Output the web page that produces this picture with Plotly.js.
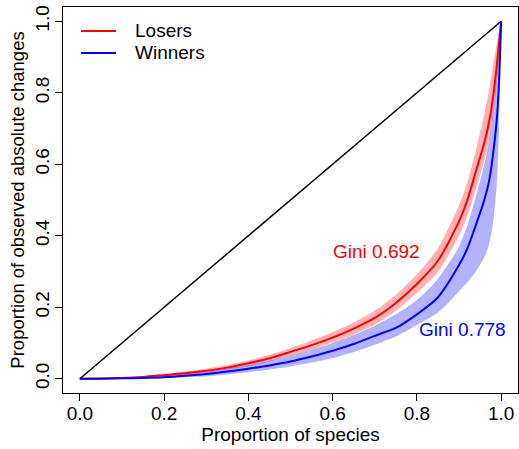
<!DOCTYPE html>
<html>
<head>
<meta charset="utf-8">
<script src="https://cdn.plot.ly/plotly-3.0.1.min.js"></script>
<style>
html,body{margin:0;padding:0;background:#fff;}
#chart{width:519px;height:449px;}
</style>
</head>
<body>
<div id="chart"></div>
<script>
// Proportion of species (x grid)
var propSpecies = [0, 0.05, 0.1, 0.15, 0.2, 0.25, 0.3, 0.35, 0.4, 0.45, 0.5, 0.55, 0.6, 0.65, 0.7, 0.75, 0.8, 0.85, 0.9, 0.92, 0.94, 0.96, 0.97, 0.98, 0.99, 0.995, 1];

// Losers Lorenz curve and band
var losersMid = [0, 0.0003, 0.002, 0.005, 0.01, 0.015, 0.022, 0.031, 0.043, 0.057, 0.075, 0.094, 0.115, 0.14, 0.17, 0.212, 0.265, 0.33, 0.44, 0.50, 0.58, 0.66, 0.71, 0.78, 0.88, 0.94, 1];
var losersHi  = [0, 0.0005, 0.003, 0.007, 0.013, 0.02, 0.028, 0.038, 0.051, 0.067, 0.086, 0.107, 0.13, 0.157, 0.19, 0.235, 0.292, 0.365, 0.485, 0.55, 0.64, 0.74, 0.80, 0.87, 0.94, 0.97, 1];
var losersLo  = [0, 0.0001, 0.001, 0.003, 0.007, 0.011, 0.017, 0.025, 0.035, 0.048, 0.064, 0.082, 0.101, 0.124, 0.151, 0.19, 0.24, 0.298, 0.40, 0.455, 0.53, 0.61, 0.66, 0.73, 0.83, 0.90, 1];

// Winners Lorenz curve and band
var winnersMid = [0, 0.0002, 0.001, 0.002, 0.004, 0.008, 0.013, 0.02, 0.028, 0.037, 0.048, 0.062, 0.078, 0.097, 0.12, 0.142, 0.18, 0.228, 0.318, 0.365, 0.43, 0.50, 0.545, 0.62, 0.73, 0.83, 1];
var winnersHi  = [0, 0.0004, 0.002, 0.004, 0.007, 0.012, 0.019, 0.028, 0.038, 0.05, 0.065, 0.082, 0.10, 0.122, 0.148, 0.18, 0.22, 0.28, 0.37, 0.43, 0.51, 0.60, 0.66, 0.74, 0.85, 0.92, 1];
var winnersLo  = [0, 0.0001, 0.0005, 0.001, 0.002, 0.004, 0.007, 0.012, 0.018, 0.026, 0.034, 0.045, 0.058, 0.075, 0.095, 0.118, 0.15, 0.185, 0.245, 0.27, 0.30, 0.34, 0.37, 0.43, 0.55, 0.70, 1];

var equalityX = [0, 1];
var equalityY = [0, 1];

var seriesNames = ["Losers", "Winners"];
var seriesColors = ["#ff0000", "#0000ff"];
var giniLabels = ["Gini 0.692", "Gini 0.778"];
var tickVals = [0, 0.2, 0.4, 0.6, 0.8, 1.0];
var tickText = ["0.0", "0.2", "0.4", "0.6", "0.8", "1.0"];

var SMOOTH = 0.7;

function band(x, lo, hi, color) {
  var bx = x.concat(x.slice().reverse());
  var by = hi.concat(lo.slice().reverse());
  return {x: bx, y: by, type: 'scatter', mode: 'lines', fill: 'toself',
          fillcolor: color, line: {width: 0, shape: 'spline', smoothing: SMOOTH},
          hoverinfo: 'skip', showlegend: false};
}

var font = "Liberation Sans, Arial, sans-serif";
var FS = 19;

var data = [
  band(propSpecies, losersLo, losersHi, 'rgba(255,0,0,0.3)'),
  band(propSpecies, winnersLo, winnersHi, 'rgba(0,0,255,0.3)'),
  {x: equalityX, y: equalityY, type: 'scatter', mode: 'lines',
   line: {color: 'black', width: 1.5}, showlegend: false},
  {x: propSpecies, y: losersMid, type: 'scatter', mode: 'lines', name: seriesNames[0],
   line: {color: seriesColors[0], width: 2, shape: 'spline', smoothing: SMOOTH}, showlegend: false},
  {x: propSpecies, y: winnersMid, type: 'scatter', mode: 'lines', name: seriesNames[1],
   line: {color: seriesColors[1], width: 2, shape: 'spline', smoothing: SMOOTH}, showlegend: false}
];

var axisCommon = {
  range: [-0.04, 1.04], tickvals: tickVals, ticktext: tickText,
  ticks: 'outside', ticklen: 7, tickwidth: 1, tickcolor: 'black',
  showline: true, mirror: true, linecolor: 'black', linewidth: 1,
  showgrid: false, zeroline: false,
  tickfont: {family: font, size: FS, color: 'black'}
};

// manual legend (paper coordinates of the plot area)
var legendRowsY = [0.938, 0.881];
var shapes = [];
var annotations = [];
for (var i = 0; i < seriesNames.length; i++) {
  shapes.push({type: 'line', xref: 'paper', yref: 'paper', x0: 0.0396, x1: 0.1165,
               y0: legendRowsY[i], y1: legendRowsY[i], line: {color: seriesColors[i], width: 2}});
  annotations.push({xref: 'paper', yref: 'paper', x: 0.1538, y: legendRowsY[i], xanchor: 'left', yanchor: 'middle',
                    text: seriesNames[i], showarrow: false, font: {family: font, size: FS, color: 'black'}});
}
annotations.push({x: 0.704, y: 0.356, xref: 'x', yref: 'y', text: giniLabels[0], showarrow: false,
                  font: {family: font, size: FS, color: seriesColors[0]}});
annotations.push({x: 0.909, y: 0.137, xref: 'x', yref: 'y', text: giniLabels[1], showarrow: false,
                  font: {family: font, size: FS, color: seriesColors[1]}});

var layout = {
  width: 519, height: 449,
  margin: {l: 63, r: 1, t: 7, b: 56},
  paper_bgcolor: 'white', plot_bgcolor: 'white',
  font: {family: font, size: FS, color: 'black'},
  xaxis: Object.assign({}, axisCommon, {
    ticklabelstandoff: -4,
    title: {text: 'Proportion of species', font: {family: font, size: FS, color: 'black'}, standoff: 0}
  }),
  yaxis: Object.assign({}, axisCommon, {
    tickangle: -90,
    ticklabelstandoff: -2,
    title: {text: 'Proportion of observed absolute changes', font: {family: font, size: 18.5, color: 'black'}, standoff: 2}
  }),
  showlegend: false,
  shapes: shapes,
  annotations: annotations
};

Plotly.newPlot('chart', data, layout, {displayModeBar: false, staticPlot: true});
</script>
</body>
</html>
